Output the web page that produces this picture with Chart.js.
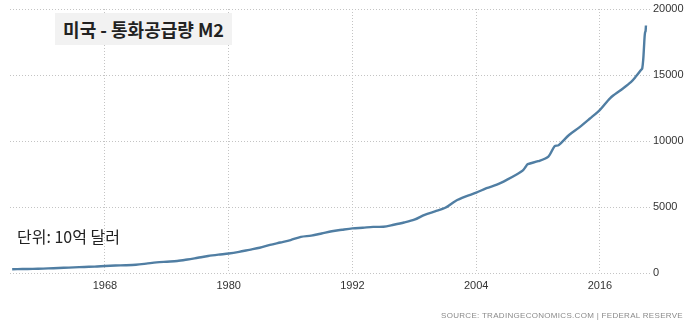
<!DOCTYPE html>
<html>
<head>
<meta charset="utf-8">
<script src="https://cdn.jsdelivr.net/npm/chart.js@4/dist/chart.umd.min.js"></script>
<style>
  html, body { margin: 0; padding: 0; background: #fff; }
  #wrap { position: relative; width: 694px; height: 324px; }
  #title {
    position: absolute; left: 55px; top: 13px; width: 177px; height: 32px;
    background: #f2f2f2; font-family: "Noto Sans CJK KR", sans-serif; font-weight: 700;
    font-size: 18px; color: #222; line-height: 32px; text-align: center;
  }
  #unit {
    position: absolute; left: 17px; top: 226px;
    font-family: "Noto Sans CJK KR", sans-serif; font-size: 16px; color: #222; line-height: 20px;
  }
  #source {
    position: absolute; right: 11px; top: 311px;
    font-family: "Liberation Sans", sans-serif; font-size: 8px; letter-spacing: 0.3px; color: #8a8a8a;
    white-space: nowrap;
  }
</style>
</head>
<body>
<div id="wrap">
  <canvas id="c" width="694" height="324"></canvas>
  <div id="title">미국 - 통화공급량 M2</div>
  <div id="unit">단위: 10억 달러</div>
  <div id="source">SOURCE: TRADINGECONOMICS.COM | FEDERAL RESERVE</div>
</div>
<script>
// US M2 money stock, billions of dollars
const years = [
  1959, 1960, 1961, 1962, 1963, 1964, 1965, 1966, 1967, 1968,
  1969, 1970, 1971, 1972, 1973, 1974, 1975, 1976, 1977, 1978,
  1979, 1980, 1981, 1982, 1983, 1984, 1985, 1986, 1987, 1988,
  1989, 1990, 1991, 1992, 1993, 1994, 1995, 1996, 1997, 1998,
  1999, 2000, 2001, 2002, 2003, 2004, 2005, 2006, 2007, 2008,
  2008.5, 2008.8, 2009, 2010, 2011, 2011.6, 2012, 2013, 2014, 2015,
  2016, 2017, 2018, 2019, 2019.5, 2020, 2020.1, 2020.2, 2020.27, 2020.33,
  2020.38, 2020.42, 2020.46
];
const m2 = [
  287, 298, 312, 335, 363, 393, 424, 459, 481, 527,
  566, 589, 628, 710, 802, 856, 908, 1023, 1155, 1287,
  1388, 1474, 1600, 1756, 1910, 2126, 2310, 2497, 2736, 2832,
  2993, 3166, 3279, 3380, 3431, 3491, 3502, 3655, 3826, 4039,
  4402, 4667, 4941, 5460, 5802, 6081, 6427, 6690, 7071, 7501,
  7750, 8050, 8243, 8468, 8822, 9600, 9685, 10453, 11035, 11684,
  12355, 13252, 13846, 14461, 14900, 15400, 15500, 16200, 17100, 17900,
  18250, 18300, 18750
];
const xTicks = [1968, 1980, 1992, 2004, 2016];
const yTicks = [0, 5000, 10000, 15000, 20000];

const points = years.map((y, i) => ({ x: y, y: m2[i] }));
const gridColor = '#c4c4c4';

new Chart(document.getElementById('c'), {
  type: 'line',
  data: {
    datasets: [{
      data: points,
      borderColor: '#507ea3',
      borderWidth: 2.4,
      pointRadius: 0,
      tension: 0.3,
      fill: false
    }]
  },
  options: {
    responsive: false,
    animation: false,
    layout: { padding: { left: 10, top: 9, right: 0, bottom: 0 } },
    plugins: { legend: { display: false }, tooltip: { enabled: false } },
    scales: {
      x: {
        type: 'linear',
        min: 1958.79,
        max: 2020.95,
        afterBuildTicks: s => { s.ticks = xTicks.map(v => ({ value: v })); },
        afterFit: s => { s.height = 51; },
        grid: { color: gridColor, lineWidth: 1, drawTicks: false },
        border: { display: false, dash: [1, 2] },
        ticks: {
          padding: 6,
          color: '#333',
          font: { family: 'Liberation Sans', size: 11 },
          maxRotation: 0,
          callback: v => String(v)
        }
      },
      y: {
        position: 'right',
        min: 0,
        max: 20000,
        afterBuildTicks: s => { s.ticks = yTicks.map(v => ({ value: v })); },
        afterFit: s => { s.width = 43; },
        grid: { color: gridColor, lineWidth: 1, drawTicks: false },
        border: { display: false, dash: [1, 2] },
        ticks: {
          padding: 2,
          color: '#333',
          font: { family: 'Liberation Sans', size: 11 },
          callback: v => String(v)
        }
      }
    }
  }
});
</script>
</body>
</html>
